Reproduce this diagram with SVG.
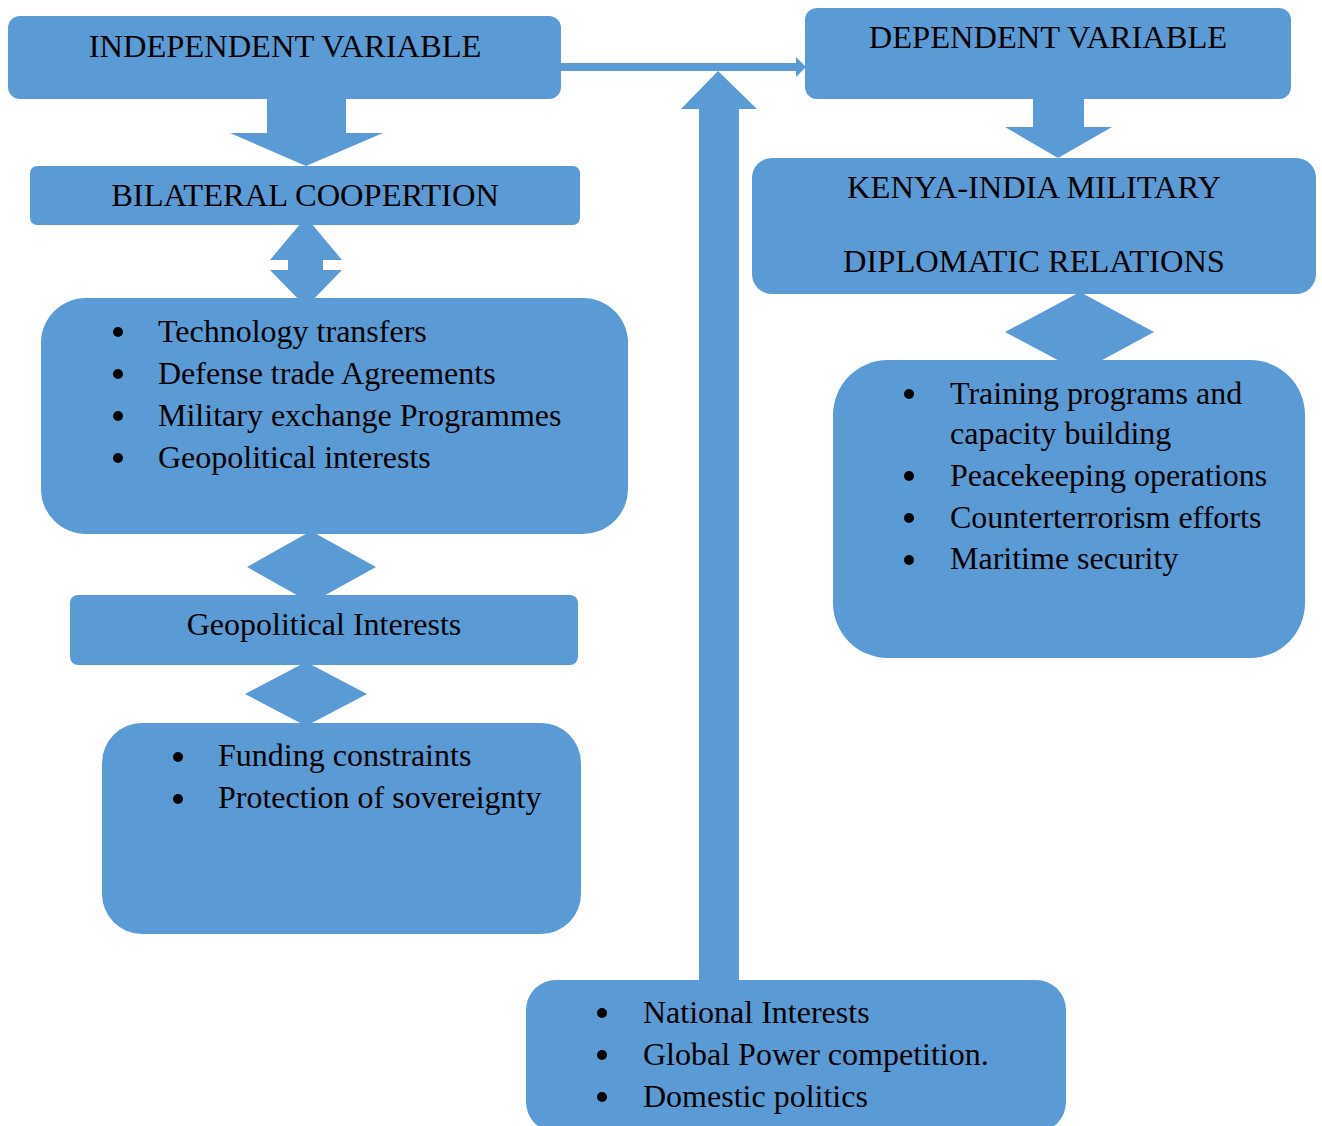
<svg xmlns="http://www.w3.org/2000/svg" width="1322" height="1126" viewBox="0 0 1322 1126">
<style>
.box{fill:#5B9BD5;}
.arr{fill:#5B9BD5;}
text{font-family:"Liberation Serif","Times New Roman",serif;font-size:32px;fill:#000;}
.c{text-anchor:middle;}
.h{font-size:32.5px;}
</style>
<rect width="1322" height="1126" fill="#fff"/>
<g id="connectors">
<polygon class="arr" points="267,95 346,95 346,133 383,133 306,166 230,133 267,133"/>
<polygon class="arr" points="306,217 342,260 323,260 323,270 342,270 306,307 270,270 288,270 288,260 270,260"/>
<polygon class="arr" points="311,531 376,567 311,603 247,567"/>
<polygon class="arr" points="306,662 367,694 306,726 245,694"/>
<polygon class="arr" points="1033,95 1084,95 1084,127 1112,127 1058,158 1005,127 1033,127"/>
<polygon class="arr" points="1080,292 1154,332 1080,372 1005,332"/>
<rect class="arr" x="560" y="63" width="238" height="8"/>
<polygon class="arr" points="796,57 806,67 796,77"/>
<polygon class="arr" points="718,71 757,109 739,109 739,985 699,985 699,109 681,109"/>
</g>
<g id="independent">
<rect class="box" x="8" y="16" width="553" height="83" rx="12"/>
<text class="c h" x="285" y="57">INDEPENDENT VARIABLE</text>
</g>
<g id="bilateral">
<rect class="box" x="30" y="166" width="550" height="59" rx="7"/>
<text class="c h" x="305" y="206">BILATERAL COOPERTION</text>
</g>
<g id="list1">
<rect class="box" x="41" y="298" width="587" height="236" rx="45"/>
<circle cx="118" cy="332" r="5"/><text x="158" y="342">Technology transfers</text>
<circle cx="118" cy="374" r="5"/><text x="158" y="384">Defense trade Agreements</text>
<circle cx="118" cy="416" r="5"/><text x="158" y="426">Military exchange Programmes</text>
<circle cx="118" cy="458" r="5"/><text x="158" y="468">Geopolitical interests</text>
</g>
<g id="geopolitical">
<rect class="box" x="70" y="595" width="508" height="70" rx="8"/>
<text class="c" x="324" y="635">Geopolitical Interests</text>
</g>
<g id="list2">
<rect class="box" x="102" y="723" width="479" height="211" rx="40"/>
<circle cx="178" cy="757" r="5"/><text x="218" y="766">Funding constraints</text>
<circle cx="178" cy="799" r="5"/><text x="218" y="808">Protection of sovereignty</text>
</g>
<g id="dependent">
<rect class="box" x="805" y="8" width="486" height="91" rx="12"/>
<text class="c h" x="1048" y="48">DEPENDENT VARIABLE</text>
</g>
<g id="kenya">
<rect class="box" x="752" y="158" width="564" height="136" rx="20"/>
<text class="c h" x="1034" y="198">KENYA-INDIA MILITARY</text>
<text class="c h" x="1034" y="272">DIPLOMATIC RELATIONS</text>
</g>
<g id="list3">
<rect class="box" x="833" y="360" width="472" height="298" rx="55"/>
<circle cx="909" cy="394" r="5"/><text x="950" y="404">Training programs and</text>
<text x="950" y="444">capacity building</text>
<circle cx="909" cy="476" r="5"/><text x="950" y="486">Peacekeeping operations</text>
<circle cx="909" cy="518" r="5"/><text x="950" y="528">Counterterrorism efforts</text>
<circle cx="909" cy="560" r="5"/><text x="950" y="569">Maritime security</text>
</g>
<g id="factors">
<rect class="box" x="526" y="980" width="540" height="152" rx="30"/>
<circle cx="602" cy="1013" r="5"/><text x="643" y="1023">National Interests</text>
<circle cx="602" cy="1055" r="5"/><text x="643" y="1065">Global Power competition.</text>
<circle cx="602" cy="1097" r="5"/><text x="643" y="1107">Domestic politics</text>
</g>
</svg>
